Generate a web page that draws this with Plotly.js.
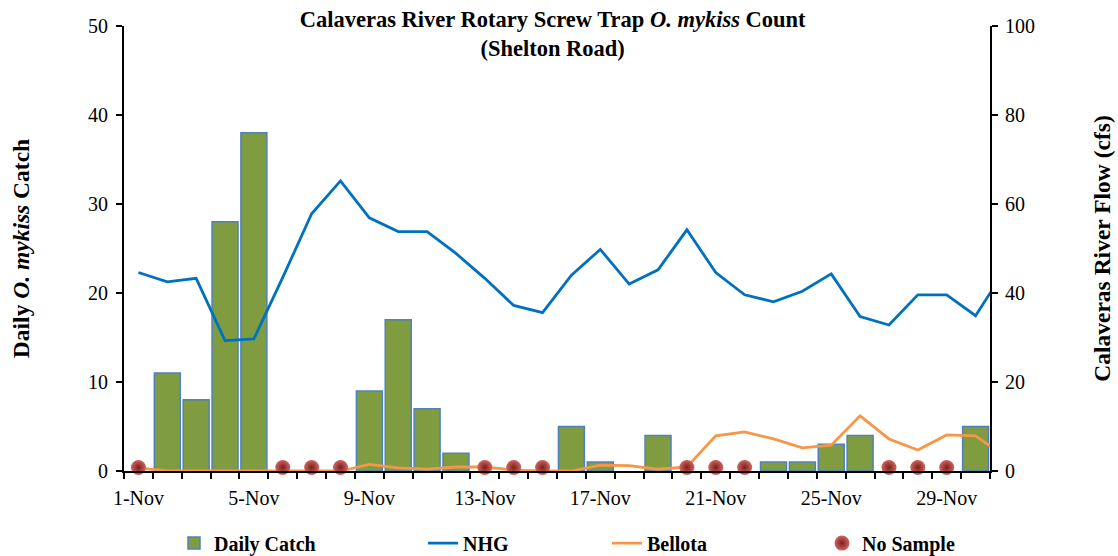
<!DOCTYPE html>
<html><head><meta charset="utf-8">
<script src="https://cdn.plot.ly/plotly-3.0.1.min.js"></script>
<style>html,body{margin:0;padding:0;background:#fff}#chart{width:1118px;height:556px}</style>
</head><body><div id="chart"></div>
<script>
const dayLabels = ['1-Nov','2-Nov','3-Nov','4-Nov','5-Nov','6-Nov','7-Nov','8-Nov','9-Nov','10-Nov',
  '11-Nov','12-Nov','13-Nov','14-Nov','15-Nov','16-Nov','17-Nov','18-Nov','19-Nov','20-Nov',
  '21-Nov','22-Nov','23-Nov','24-Nov','25-Nov','26-Nov','27-Nov','28-Nov','29-Nov','30-Nov','1-Dec'];
const tickLabels = ['1-Nov','5-Nov','9-Nov','13-Nov','17-Nov','21-Nov','25-Nov','29-Nov'];
const dailyCatch = [null,11,8,28,38,null,null,null,9,17,7,2,null,null,null,5,1,null,4,null,
  null,null,1,1,3,4,null,null,null,5];
const nhgFlow = [44.6,42.5,43.3,29.3,29.7,43.5,57.8,65.2,56.9,53.8,53.8,48.9,43.3,37.2,35.6,44.0,49.8,42.0,45.2,54.2,
  44.6,39.6,38.0,40.4,44.3,34.7,32.8,39.6,39.6,34.9,45.0];
const bellotaFlow = [0.7,0,0,0,0,0,0,0,1.5,0.7,0.4,0.9,0.9,0.2,0,0,1.3,1.2,0.4,0.9,
  7.9,8.8,7.2,5.2,5.8,12.4,7.2,4.7,8.1,7.9,3.3];
const noSampleDays = ['1-Nov','6-Nov','7-Nov','8-Nov','13-Nov','14-Nov','15-Nov','20-Nov','21-Nov','22-Nov','27-Nov','28-Nov','29-Nov'];
const noSampleLevel = 0.4;

const pos = d => dayLabels.indexOf(d) + 1;
const xAll = dayLabels.map(pos);
const xCatch = dayLabels.slice(0, dailyCatch.length).map(pos);

const F = 'Liberation Serif, Times New Roman, serif';
const traces = [
  {type:'bar', x:xCatch, y:dailyCatch, name:'Daily Catch', width:0.9, yaxis:'y',
   marker:{color:'#7F9C41', line:{color:'#4F81BD', width:1.5}}, legend:'legend'},
  {type:'scatter', mode:'lines', x:xAll, y:nhgFlow, name:'NHG', yaxis:'y2',
   line:{color:'#0070C0', width:2.8}, legend:'legend2'},
  {type:'scatter', mode:'lines', x:xAll, y:bellotaFlow, name:'Bellota', yaxis:'y2',
   line:{color:'#F79646', width:2.8}, legend:'legend3'},
  {type:'scatter', mode:'markers', x:noSampleDays.map(pos), y:noSampleDays.map(()=>noSampleLevel),
   name:'No Sample', yaxis:'y3', cliponaxis:false,
   marker:{size:15, color:'#D06460', gradient:{type:'radial', color:'#7A1F1C'}, line:{width:0}}, legend:'legend4'}
];

const tickVals = tickLabels.map(pos);

const legBase = {orientation:'h', yanchor:'middle', xanchor:'left', y:-0.162, bgcolor:'rgba(0,0,0,0)',
  font:{family:F, size:20, color:'#000', weight:'bold'}};
const layout = {
  width:1118, height:556,
  margin:{l:124, r:128, t:26, b:85, autoexpand:false},
  paper_bgcolor:'#fff', plot_bgcolor:'#fff',
  title:{text:'<b>Calaveras River Rotary Screw Trap <i>O. mykiss</i> Count<br>(Shelton Road)</b>',
    font:{family:F, size:22.5, color:'#000'}, x:0.495, xref:'paper', xanchor:'center', y:0.951, yref:'container', yanchor:'top'},
  bargap:0.1,
  xaxis:{range:[0.5,30.5], tickmode:'array', tickvals:tickVals, ticktext:tickLabels, ticks:'',
    showline:true, linecolor:'#000', linewidth:2, showgrid:false, zeroline:false,
    ticklabelstandoff:8,
    tickfont:{family:F, size:20, color:'#000'},
    minor:{tick0:0.5, dtick:1, ticks:'outside', ticklen:6, tickwidth:1.5, tickcolor:'#000', showgrid:false}},
  yaxis:{range:[0,50], dtick:10, ticks:'outside', ticklen:6, tickwidth:1.5, tickcolor:'#000',
    showline:true, linecolor:'#000', linewidth:2, showgrid:false, zeroline:false, ticklabelstandoff:4,
    tickfont:{family:F, size:20, color:'#000'},
    title:{text:'<b>Daily <i>O. mykiss</i> Catch</b>', font:{family:F, size:23.5, color:'#000'}, standoff:52}},
  yaxis2:{range:[0,100], dtick:20, overlaying:'y', side:'right', ticks:'outside', ticklen:6, tickwidth:1.5, tickcolor:'#000',
    showline:true, linecolor:'#000', linewidth:2, showgrid:false, zeroline:false, ticklabelstandoff:3,
    tickfont:{family:F, size:20, color:'#000'},
    title:{text:'<b>Calaveras River Flow (cfs)</b>', font:{family:F, size:23.5, color:'#000'}, standoff:60}},
  yaxis3:{range:[0,50], overlaying:'y', visible:false},
  showlegend:true,
  legend:Object.assign({}, legBase, {x:(174-124)/866}),
  legend2:Object.assign({}, legBase, {x:(423-124)/866}),
  legend3:Object.assign({}, legBase, {x:(607-124)/866}),
  legend4:Object.assign({}, legBase, {x:(822-124)/866})
};
Plotly.newPlot('chart', traces, layout, {displayModeBar:false, responsive:false});
</script></body></html>
